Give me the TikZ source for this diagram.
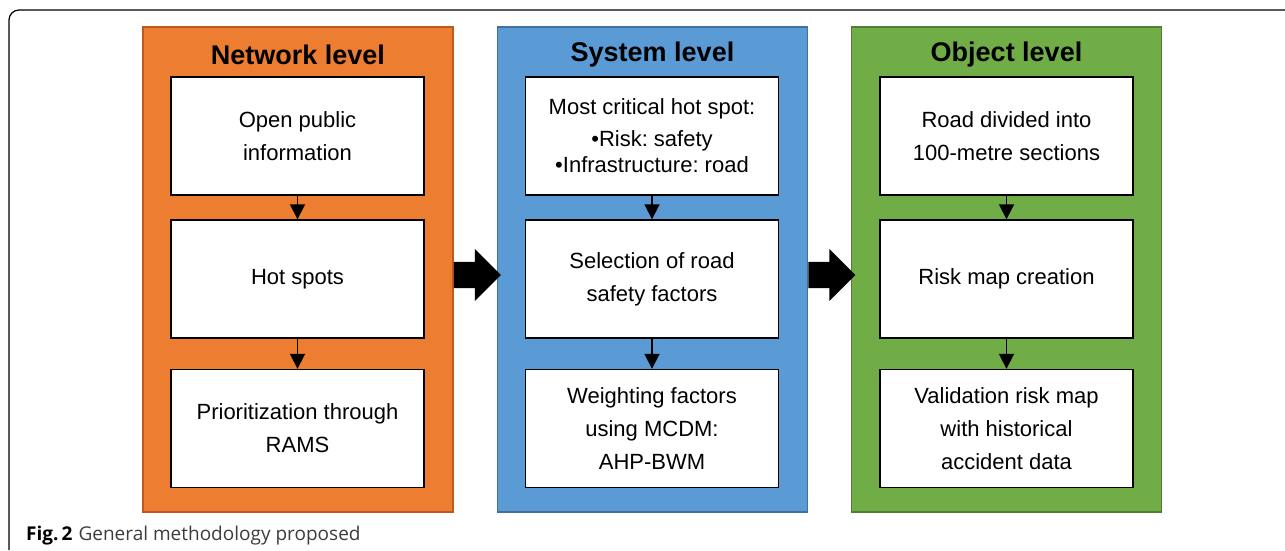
\documentclass[tikz,border=0pt]{standalone}
\usepackage{fontspec}
\setmainfont{Liberation Sans}
\newfontfamily\captionfont{Open Sans}
\usetikzlibrary{arrows.meta, shapes.arrows, positioning}
\usepackage{xcolor}
\definecolor{netorange}{RGB}{237,125,49}
\definecolor{netorangedark}{RGB}{190,90,30}
\definecolor{sysblue}{RGB}{91,155,213}
\definecolor{sysbluedark}{RGB}{65,113,156}
\definecolor{objgreen}{RGB}{112,173,71}
\definecolor{objgreendark}{RGB}{80,126,50}
\definecolor{capgray}{RGB}{60,60,60}
\tikzset{levelpanel/.style={rectangle, line width=1.5pt, minimum width=310pt, minimum height=485pt, inner sep=0pt},levelhead/.style={font=\fontsize{27}{30}\selectfont\bfseries, inner sep=0pt}}
\frenchspacing

\begin{document}
\begin{tikzpicture}[
        x=1pt, y=-1pt,
        stepbox/.style={rectangle, draw=black, fill=white, line width=1.4pt, minimum width=253pt, minimum height=118pt, align=center, inner sep=2pt, font=\fontsize{22}{33}\selectfont},
        steparrow/.style={-{Triangle[width=15pt,length=15pt]}, line width=1.8pt},
        bigarrow/.style={single arrow, fill=black, draw=none, minimum height=47pt, single arrow head extend=13pt, inner xsep=0pt, inner ysep=13pt}
    ]
        \useasboundingbox (0,0) rectangle (1285,550);
        % Frame
        \draw[line width=1.2pt] (1285,10) -- (19,10) arc[start angle=90, end angle=180, radius=10pt] -- (9,550);
        % Panels
        \node[levelpanel, fill=netorange, draw=netorangedark] (netpanel) at (298,269.5) {};
        \node[levelpanel, fill=sysblue, draw=sysbluedark] (syspanel) at (652.5,269.5) {};
        \node[levelpanel, fill=objgreen, draw=objgreendark] (objpanel) at (1006.5,269.5) {};
        % Titles
        \node[levelhead] (nettitle) at (298,55) {Network level};
        \node[levelhead] (systitle) at (652.5,55) {System level};
        \node[levelhead] (objtitle) at (1006.5,55) {Object level};
        % Network level
        \node[stepbox] (open) at (297.5,136) {Open public\\information};
        \node[stepbox] (hotspots) at (297.5,279) {Hot spots};
        \node[stepbox] (rams) at (297.5,428.5) {Prioritization through\\RAMS};
        % System level
        \node[stepbox] (critical) at (652,136) {Most critical hot spot:\\[-1pt]\textbullet Risk: safety\\[-7pt]\textbullet Infrastructure: road};
        \node[stepbox] (selection) at (652,279) {Selection of road\\safety factors};
        \node[stepbox] (weighting) at (652,428.5) {Weighting factors\\using MCDM:\\AHP-BWM};
        % Object level
        \node[stepbox] (sections) at (1006.5,136) {Road divided into\\100-metre sections};
        \node[stepbox] (riskmap) at (1006.5,279) {Risk map creation};
        \node[stepbox] (validation) at (1006.5,428.5) {Validation risk map\\with historical\\accident data};
        % Arrows
        \draw[steparrow] (open) -- (hotspots);
        \draw[steparrow] (hotspots) -- (rams);
        \draw[steparrow] (critical) -- (selection);
        \draw[steparrow] (selection) -- (weighting);
        \draw[steparrow] (sections) -- (riskmap);
        \draw[steparrow] (riskmap) -- (validation);
        \node[bigarrow, anchor=tail] (netsys) at (netpanel.east |- 0,275) {};
        \node[bigarrow, anchor=tail] (sysobj) at (syspanel.east |- 0,275) {};
        % Caption
        \node[anchor=base west, inner sep=0pt, font=\captionfont\fontsize{19}{22}\selectfont, text=capgray] (caption) at (26,540) {\textcolor{black}{\bfseries Fig.\,2}\hspace{6pt}General methodology proposed};
    \end{tikzpicture}
\end{document}
